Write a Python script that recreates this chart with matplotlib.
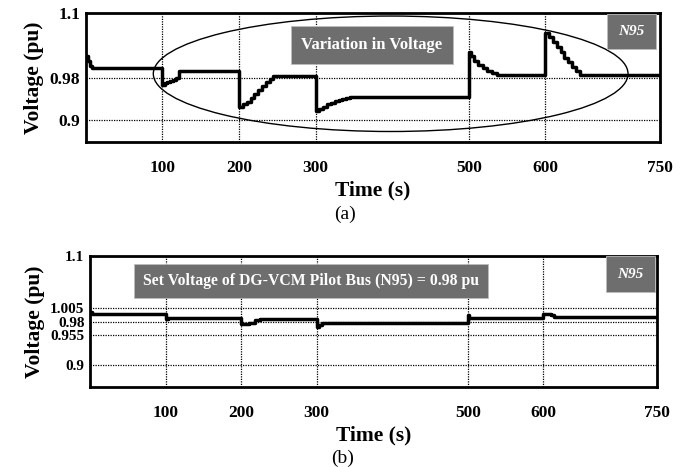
import numpy as np
import matplotlib
matplotlib.use('Agg')
import matplotlib.pyplot as plt
from matplotlib.patches import Ellipse

plt.rcParams['font.family'] = ['Liberation Serif', 'DejaVu Serif']

# (a) voltage at N95 without DG-VCM, sampled where the trace changes (held until next point)
t_a = [0, 3, 5, 8,
       100, 103, 106, 110, 114, 118, 122,
       200, 205, 210, 215, 220, 225, 230, 235, 240, 244,
       300, 305, 310, 315, 320, 325, 330, 335, 340, 345,
       500, 503, 507, 512, 518, 524, 530, 537,
       600, 605, 610, 615, 620, 625, 630, 635, 640, 645, 750]
v_a = [1.020, 1.010, 1.002, 0.997,
       0.967, 0.970, 0.972, 0.974, 0.976, 0.979, 0.992,
       0.926, 0.930, 0.935, 0.942, 0.950, 0.957, 0.965, 0.972, 0.978, 0.983,
       0.917, 0.922, 0.926, 0.930, 0.933, 0.936, 0.938, 0.940, 0.941, 0.943,
       1.028, 1.020, 1.010, 1.003, 0.998, 0.993, 0.989, 0.985,
       1.062, 1.055, 1.046, 1.037, 1.027, 1.017, 1.008, 0.999, 0.992, 0.985, 0.985]

# (b) voltage at N95 with DG-VCM pilot bus control
t_b = [0, 3, 100, 103, 200, 210, 218, 225, 300, 303, 307, 312,
       500, 502, 600, 610, 614, 750]
v_b = [0.998, 0.994, 0.985, 0.987, 0.976, 0.978, 0.982, 0.985, 0.970, 0.974, 0.977, 0.978,
       0.992, 0.987, 0.994, 0.992, 0.989, 0.989]

xticks = [100, 200, 300, 500, 600, 750]
yticks_a = [0.9, 0.98, 1.1]
yticks_b = [0.9, 0.955, 0.98, 1.005, 1.1]

box_gray = '#6e6e6e'

fig = plt.figure(figsize=(6.82, 4.67), dpi=100)
ax1 = fig.add_axes([0.126, 0.696, 0.842, 0.276])
ax2 = fig.add_axes([0.132, 0.171, 0.831, 0.281])


def style_axes(ax, yticks, ylabels, ysize):
    ax.set_xlim(0, 750)
    ax.set_ylim(0.86, 1.1)
    ax.set_xticks(xticks)
    ax.set_yticks(yticks)
    ax.set_yticklabels(ylabels)
    ax.tick_params(length=0)
    ax.tick_params(axis='x', pad=13, labelsize=12.5)
    ax.tick_params(axis='y', pad=4, labelsize=ysize)
    for lbl in ax.get_xticklabels() + ax.get_yticklabels():
        lbl.set_fontweight('bold')
    ax.grid(True, color='black', linestyle=(0, (1, 1)), linewidth=0.9)
    for s in ax.spines.values():
        s.set_linewidth(2)
    ax.set_xlabel('Time (s)', fontsize=15.5, fontweight='bold', labelpad=3)
    ax.set_ylabel('Voltage (pu)', fontsize=15.5, fontweight='bold', labelpad=4)


style_axes(ax1, yticks_a, ['0.9', '0.98', '1.1'], 12.5)
style_axes(ax2, yticks_b, ['0.9', '0.955', '0.98', '1.005', '1.1'], 11)

fig.text(0.506, 0.540, '(a)', ha='center', va='center', fontsize=14)
fig.text(0.503, 0.019, '(b)', ha='center', va='center', fontsize=14)

ax1.plot(t_a, v_a, drawstyle='steps-post', color='black', linewidth=2.5)
ax2.plot(t_b, v_b, drawstyle='steps-post', color='black', linewidth=2.5)

# ellipse around the variation
ax1.add_patch(Ellipse((398, 0.987), 620, 0.215, fill=False, edgecolor='black', linewidth=1.0, zorder=5))

edge = '#bdbdbd'
ax1.text(0.498, 0.752, 'Variation in Voltage', transform=ax1.transAxes, ha='center', va='center',
         color='white', fontsize=12, fontweight='bold',
         bbox=dict(boxstyle='square,pad=0.65', facecolor=box_gray, edgecolor=edge, linewidth=0.6), zorder=6)
ax1.text(0.950, 0.857, 'N95', transform=ax1.transAxes, ha='center', va='center',
         color='white', fontsize=11, fontweight='bold', style='italic',
         bbox=dict(boxstyle='square,pad=0.75', facecolor=box_gray, edgecolor=edge, linewidth=0.6), zorder=6)

ax2.text(0.390, 0.809, 'Set Voltage of DG-VCM Pilot Bus (N95) = 0.98 pu', transform=ax2.transAxes,
         ha='center', va='center', color='white', fontsize=11.3, fontweight='bold',
         bbox=dict(boxstyle='square,pad=0.6', facecolor=box_gray, edgecolor=edge, linewidth=0.6), zorder=6)
ax2.text(0.953, 0.859, 'N95', transform=ax2.transAxes, ha='center', va='center',
         color='white', fontsize=11, fontweight='bold', style='italic',
         bbox=dict(boxstyle='square,pad=0.75', facecolor=box_gray, edgecolor=edge, linewidth=0.6), zorder=6)

fig.savefig('out.png', dpi=100)
